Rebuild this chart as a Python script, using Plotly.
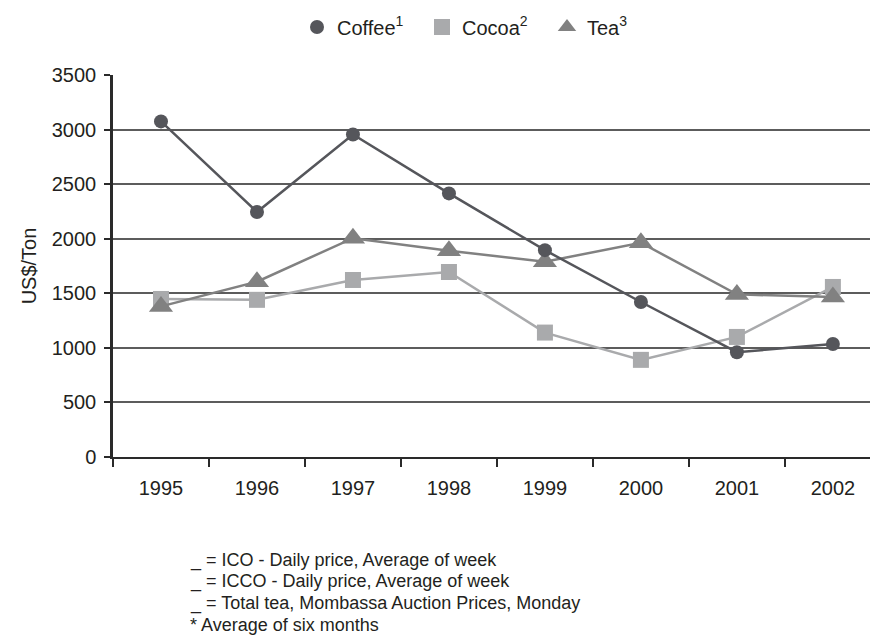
import plotly.graph_objects as go

years = ["1995", "1996", "1997", "1998", "1999", "2000", "2001", "2002"]
coffee = [3075, 2245, 2955, 2415, 1895, 1420, 960, 1035]
cocoa = [1448, 1440, 1622, 1695, 1140, 890, 1100, 1558]
tea = [1380, 1606, 2005, 1890, 1789, 1963, 1490, 1465]
y_ticks = [0, 500, 1000, 1500, 2000, 2500, 3000, 3500]
footnotes = [
    "_ = ICO - Daily price, Average of week",
    "_ = ICCO - Daily price, Average of week",
    "_ = Total tea, Mombassa Auction Prices, Monday",
    "* Average of six months",
]

FONT = "Liberation Sans, Arial, Helvetica, sans-serif"
TXT = "#231f20"
C_COFFEE = "#55565b"
C_COCOA = "#a9aaac"
C_TEA = "#818181"

# page body has an 8px margin; figure is sized so it fits the 878x643 window
W, H = 870, 635
L, T, B = 105, 67, 186
PW = W - L
PH = H - T - B

fig = go.Figure()

fig.add_trace(go.Scatter(x=years, y=cocoa, mode="lines+markers", showlegend=False,
                         line=dict(color=C_COCOA, width=2.5),
                         marker=dict(symbol="square", size=16, color=C_COCOA)))
fig.add_trace(go.Scatter(x=years, y=tea, mode="lines+markers", showlegend=False,
                         line=dict(color=C_TEA, width=2.5),
                         marker=dict(symbol="triangle-up", size=21, color=C_TEA)))
fig.add_trace(go.Scatter(x=years, y=coffee, mode="lines+markers", showlegend=False,
                         line=dict(color=C_COFFEE, width=2.5),
                         marker=dict(symbol="circle", size=14, color=C_COFFEE)))

# legend-only entries (markers only)
fig.add_trace(go.Scatter(x=[None], y=[None], mode="markers", name="Coffee<sup>1</sup>",
                         marker=dict(symbol="circle", size=14, color=C_COFFEE)))
fig.add_trace(go.Scatter(x=[None], y=[None], mode="markers", name="Cocoa<sup>2</sup>",
                         marker=dict(symbol="square", size=16, color=C_COCOA)))
fig.add_trace(go.Scatter(x=[None], y=[None], mode="markers", name="Tea<sup>3</sup>",
                         marker=dict(symbol="triangle-up", size=21, color=C_TEA)))

for i, t in enumerate(footnotes):
    fig.add_annotation(text=t, xref="paper", yref="paper", x=(180 - L) / PW,
                       y=-(552 - (T + PH) + 21.5 * i) / PH, xanchor="left", yanchor="middle",
                       showarrow=False, font=dict(size=18, color=TXT, family=FONT))

fig.update_layout(
    width=W, height=H,
    margin=dict(l=L, r=0, t=T, b=B, autoexpand=False),
    paper_bgcolor="white", plot_bgcolor="white",
    font=dict(family=FONT, size=20, color=TXT),
    legend=dict(orientation="h", x=(289 - L) / PW, xanchor="left",
                y=1 + 48 / PH, yanchor="middle", entrywidth=80,
                font=dict(size=20, color=TXT), itemwidth=30, traceorder="normal"),
    xaxis=dict(type="category", range=[-0.5, 7.47], showgrid=False, automargin=False,
               showline=True, linecolor="#2a2a2a", linewidth=2,
               ticks="outside", tickson="boundaries", ticklen=8, tickwidth=2,
               tickcolor="#2a2a2a", ticklabelstandoff=12,
               tickfont=dict(size=20, color=TXT)),
    yaxis=dict(range=[0, 3500], tickvals=y_ticks, showgrid=True, gridcolor="#5c5c5c",
               gridwidth=1.5, zeroline=False, automargin=False,
               showline=True, linecolor="#2a2a2a", linewidth=2.5,
               ticks="outside", ticklen=6, tickwidth=2, tickcolor="#2a2a2a",
               ticklabelstandoff=4,
               tickfont=dict(size=20, color=TXT),
               title=dict(text="US$/Ton", font=dict(size=20, color=TXT), standoff=10)),
)

fig.write_html("out.html")
